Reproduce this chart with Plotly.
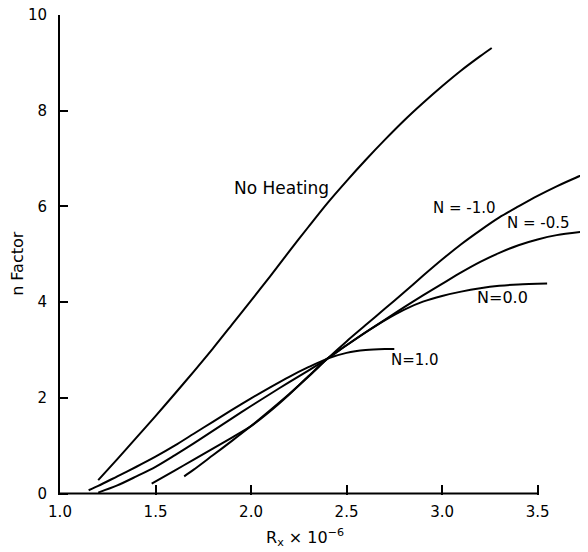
import plotly.graph_objects as go

# --- data ---
nh_x = [1.2, 1.3, 1.4, 1.5, 1.6, 1.7, 1.8, 1.9, 2.0, 2.1, 2.2, 2.3, 2.4, 2.5, 2.6, 2.7, 2.8, 2.9, 3.0, 3.1, 3.2, 3.26]
nh_y = [0.28, 0.72, 1.17, 1.62, 2.08, 2.55, 3.03, 3.53, 4.03, 4.54, 5.06, 5.57, 6.07, 6.53, 6.97, 7.39, 7.79, 8.16, 8.51, 8.84, 9.14, 9.31]

m10_x = [1.65, 1.7, 1.8, 1.9, 2.0, 2.1, 2.2, 2.3, 2.4, 2.5, 2.6, 2.7, 2.8, 2.9, 3.0, 3.1, 3.2, 3.3, 3.4, 3.5, 3.6, 3.7, 3.76]
m10_y = [0.36, 0.5, 0.8, 1.1, 1.41, 1.74, 2.08, 2.44, 2.82, 3.18, 3.52, 3.86, 4.2, 4.55, 4.89, 5.21, 5.5, 5.77, 6.0, 6.22, 6.42, 6.6, 6.7]

m05_x = [1.48, 1.6, 1.7, 1.8, 1.9, 2.0, 2.1, 2.2, 2.3, 2.4, 2.5, 2.6, 2.7, 2.8, 2.9, 3.0, 3.1, 3.2, 3.3, 3.4, 3.5, 3.6, 3.75]
m05_y = [0.21, 0.48, 0.71, 0.94, 1.17, 1.41, 1.72, 2.07, 2.45, 2.82, 3.1, 3.37, 3.63, 3.89, 4.14, 4.38, 4.62, 4.84, 5.03, 5.19, 5.31, 5.4, 5.48]

n00_x = [1.2, 1.3, 1.4, 1.5, 1.6, 1.7, 1.8, 1.9, 2.0, 2.1, 2.2, 2.3, 2.4, 2.5, 2.6, 2.7, 2.8, 2.9, 3.0, 3.1, 3.2, 3.3, 3.4, 3.55]
n00_y = [0.02, 0.17, 0.36, 0.56, 0.8, 1.05, 1.31, 1.57, 1.83, 2.08, 2.33, 2.57, 2.82, 3.1, 3.37, 3.62, 3.84, 4.01, 4.13, 4.22, 4.29, 4.34, 4.37, 4.39]

p10_x = [1.15, 1.2, 1.3, 1.4, 1.5, 1.6, 1.7, 1.8, 1.9, 2.0, 2.1, 2.2, 2.3, 2.4, 2.5, 2.6, 2.7, 2.75]
p10_y = [0.07, 0.16, 0.36, 0.56, 0.77, 1.0, 1.25, 1.5, 1.75, 1.99, 2.22, 2.44, 2.64, 2.82, 2.94, 3.0, 3.02, 3.02]

x_ticks = [1.0, 1.5, 2.0, 2.5, 3.0, 3.5]
x_tick_labels = ["1.0", "1.5", "2.0", "2.5", "3.0", "3.5"]
y_ticks = [0, 2, 4, 6, 8, 10]

labels = ["No Heating", "N = -1.0", "N = -0.5", "N=0.0", "N=1.0"]
label_x = [2.162, 3.12, 3.503, 3.317, 2.86]
label_y = [6.39, 5.97, 5.66, 4.09, 2.80]
label_size = [17, 15, 15, 16, 15]

FONT = "DejaVu Sans"

fig = go.Figure()
for xs, ys in [(nh_x, nh_y), (m10_x, m10_y), (m05_x, m05_y), (n00_x, n00_y), (p10_x, p10_y)]:
    fig.add_trace(go.Scatter(x=xs, y=ys, mode="lines",
                             line=dict(color="black", width=2, shape="spline", smoothing=0.8),
                             showlegend=False, hoverinfo="skip"))

for t, lx, ly, s in zip(labels, label_x, label_y, label_size):
    fig.add_annotation(x=lx, y=ly, text=t, showarrow=False, font=dict(family=FONT, size=s, color="black"))

# axis titles
fig.add_annotation(x=0.464, y=-0.0875, xref="paper", yref="paper", text="R<sub>x</sub> × 10<sup>−6</sup>",
                   showarrow=False, xanchor="center", yanchor="middle",
                   font=dict(family=FONT, size=16, color="black"))
fig.add_annotation(x=-0.082, y=0.483, xref="paper", yref="paper", text="n Factor", textangle=-90,
                   showarrow=False, xanchor="center", yanchor="middle",
                   font=dict(family=FONT, size=16, color="black"))

# x axis baseline only between 1.0 and 3.5
fig.add_shape(type="line", x0=1.0, x1=3.5, y0=0, y1=0, xref="x", yref="y", line=dict(color="black", width=2))

# the page body adds an 8px offset; margins compensate so the plot area lands where the reference has it
fig.update_layout(
    width=588, height=552,
    margin=dict(l=52, r=8, t=7, b=65),
    paper_bgcolor="white", plot_bgcolor="white",
    xaxis=dict(range=[1.0, 3.764], tickvals=x_ticks, ticktext=x_tick_labels, ticks="inside", ticklen=10,
               tickwidth=2, tickcolor="black", showgrid=False, zeroline=False, showline=False,
               tickfont=dict(family=FONT, size=15, color="black"), ticklabelstandoff=6, automargin=False,
               ticklabeloverflow="allow"),
    yaxis=dict(range=[-0.03, 10.0], tickvals=y_ticks, ticks="inside", ticklen=8, tickwidth=2,
               tickcolor="black", showgrid=False, zeroline=False, showline=True, linecolor="black", linewidth=2,
               tickfont=dict(family=FONT, size=15, color="black"), ticklabelstandoff=8, automargin=False,
               ticklabeloverflow="allow"),
)

fig.write_html("out.html")
